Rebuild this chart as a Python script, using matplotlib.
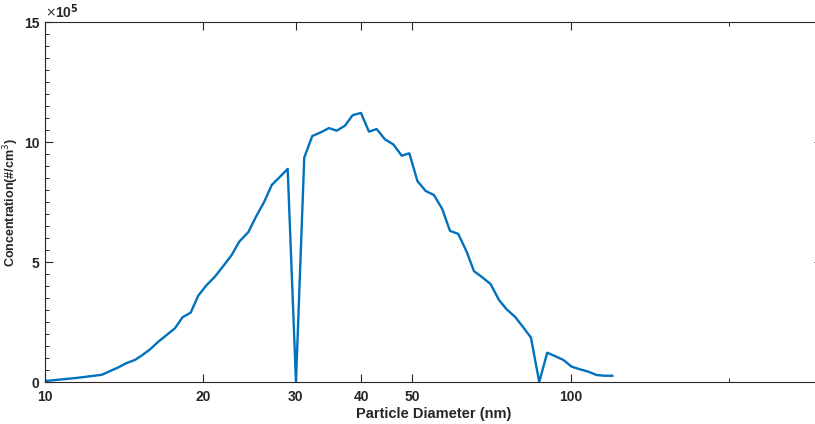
import matplotlib
matplotlib.use("Agg")
import matplotlib.pyplot as plt
from matplotlib.ticker import FixedLocator, NullFormatter

plt.rcParams['font.family'] = ['Liberation Sans', 'DejaVu Sans']

# Particle diameter (nm)
diameter = [10.0, 11.49, 12.82, 13.79, 14.26, 14.83, 15.27, 15.84, 16.43, 17.04,
            17.67, 18.27, 18.93, 19.57, 20.30, 21.05, 21.83, 22.65, 23.42, 24.36,
            25.20, 26.10, 27.00, 27.99, 28.95, 30.02, 31.13, 32.24, 33.45, 34.69,
            35.88, 37.21, 38.49, 39.91, 41.33, 42.75, 44.33, 45.98, 47.70, 49.32,
            51.11, 52.98, 54.94, 56.97, 58.93, 61.11, 63.40, 65.46, 68.00, 70.42,
            73.03, 75.53, 78.34, 81.23, 84.02, 87.13, 90.23, 93.34, 96.81, 100.4,
            104.1, 108.0, 112.1, 116.2, 120.0]
# Concentration in units of 1e5 #/cm^3
conc_e5 = [0.04, 0.17, 0.30, 0.61, 0.78, 0.92, 1.10, 1.36, 1.68, 1.96,
           2.24, 2.70, 2.89, 3.60, 4.04, 4.39, 4.83, 5.29, 5.85, 6.24,
           6.89, 7.49, 8.21, 8.55, 8.88, 0.0, 9.35, 10.25, 10.40, 10.58,
           10.47, 10.68, 11.12, 11.21, 10.43, 10.54, 10.11, 9.90, 9.43, 9.53,
           8.37, 7.96, 7.79, 7.21, 6.30, 6.17, 5.43, 4.62, 4.35, 4.08,
           3.42, 3.03, 2.72, 2.28, 1.85, 0.0, 1.22, 1.08, 0.92, 0.64,
           0.53, 0.43, 0.29, 0.26, 0.26]

xticks = [10, 20, 30, 40, 50, 100]
xtick_labels = ['10', '20', '30', '40', '50', '100']
xminor = [200]
yticks = [0, 5, 10, 15]
yminor = [i * 0.5 for i in range(31)]

W, H = 815, 424
fig = plt.figure(figsize=(W / 100, H / 100), dpi=100)
ax = fig.add_axes([45 / W, (H - 382) / H, 776.5 / W, 360 / H])

ax.plot(diameter, conc_e5, color='#0072BD', linewidth=1.7)
ax.set_xscale('log')
ax.set_xlim(10, 300)
ax.set_ylim(0, 15)

axcol = '#262626'
ax.xaxis.set_major_locator(FixedLocator(xticks))
ax.set_xticklabels(xtick_labels)
ax.xaxis.set_minor_locator(FixedLocator(xminor))
ax.xaxis.set_minor_formatter(NullFormatter())
ax.yaxis.set_major_locator(FixedLocator(yticks))
ax.set_yticklabels([str(v) for v in yticks])
ax.yaxis.set_minor_locator(FixedLocator(yminor))

ax.tick_params(which='both', direction='in', top=True, right=True, colors=axcol,
               labelsize=10)
ax.tick_params(which='major', length=6, width=0.8)
ax.tick_params(which='minor', length=3, width=0.7)
ax.tick_params(axis='x', pad=6)
ax.tick_params(axis='y', pad=4)
for lbl in ax.get_xticklabels() + ax.get_yticklabels():
    lbl.set_fontweight('bold')
for s in ax.spines.values():
    s.set_color(axcol)
    s.set_linewidth(0.8)

ax.set_xlabel('Particle Diameter (nm)', fontsize=10.5, fontweight='bold', color=axcol, labelpad=2)
ax.set_ylabel('Concentration(#/cm$^3$)', fontsize=9, fontweight='bold', color=axcol)
ax.yaxis.set_label_coords(-0.031, 0.5)

ax.text(0.0, 1.006, r'$\times$', transform=ax.transAxes, ha='left', va='bottom',
        fontsize=9, color=axcol)
ax.text(0.013, 1.004, r'10$^{\mathbf{5}}$', transform=ax.transAxes, ha='left', va='bottom',
        fontsize=10, fontweight='bold', color=axcol)

fig.savefig('out.png', dpi=100)
